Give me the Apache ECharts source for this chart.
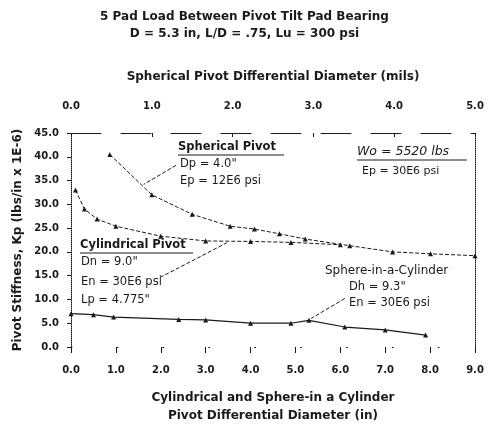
<!DOCTYPE html>
<html><head><meta charset="utf-8">
<script src="https://cdn.jsdelivr.net/npm/echarts@6/dist/echarts.min.js"></script>
<style>html,body{margin:0;padding:0;background:#fff}#c{width:489px;height:430px}</style>
</head><body><div id="c"></div>
<script>
// Spherical pivot (top axis, mils)
var sphX = [0.48, 1.0, 1.5, 1.97, 2.27, 2.58, 2.9, 3.45, 3.98, 4.45, 5.0];
var sphY = [40.5, 32.0, 27.9, 25.4, 24.8, 23.8, 22.7, 21.3, 20.0, 19.6, 19.2];
// Cylindrical pivot (bottom axis, in)
var cylX = [0.1, 0.3, 0.58, 1.0, 2.0, 3.0, 4.0, 4.9, 6.0];
var cylY = [33.0, 29.0, 26.9, 25.4, 23.3, 22.3, 22.2, 22.0, 21.5];
// Sphere-in-a-Cylinder (bottom axis, in)
var sicX = [0.0, 0.5, 0.95, 2.4, 3.0, 4.0, 4.9, 5.3, 6.1, 7.0, 7.9];
var sicY = [7.0, 6.8, 6.3, 5.8, 5.7, 5.0, 5.0, 5.6, 4.2, 3.6, 2.5];
var yTicks = [0, 45, 5];
var bottomTicks = [0, 9, 1];
var topTicks = [0, 5, 1];

function pairs(xs, ys){ return xs.map(function(x,i){return [x, ys[i]];}); }
var F = 'DejaVu Sans';
var C = '#1a1a1a';
var chart = echarts.init(document.getElementById('c'));
var lbl = {fontFamily:F, fontSize:10, color:C, fontWeight:'bold', formatter:function(v){return v.toFixed(1);}};
var leader = {symbol:['none','none'], silent:true, label:{show:false}, lineStyle:{color:C, type:'dashed', width:1}};
chart.setOption({
  animation:false,
  title:{text:'5 Pad Load Between Pivot Tilt Pad Bearing\nD = 5.3 in, L/D = .75, Lu = 300 psi', left:'center', top:3,
    textStyle:{fontFamily:F, fontSize:12, fontWeight:'bold', color:C, lineHeight:17}},
  grid:{left:71, right:14, top:133, bottom:81},
  xAxis:[
    {type:'value', position:'bottom', min:bottomTicks[0], max:bottomTicks[1], interval:bottomTicks[2],
     axisLine:{show:true, onZero:false, lineStyle:{color:C, width:1, type:[1,44.9]}}, axisTick:{show:true, length:6, lineStyle:{color:C, width:1}}, splitLine:{show:false},
     axisLabel:Object.assign({margin:18}, lbl),
     name:'Cylindrical and Sphere-in a Cylinder\nPivot Differential Diameter (in)', nameLocation:'middle', nameGap:42,
     nameTextStyle:{fontFamily:F, fontSize:12, fontWeight:'bold', color:C, lineHeight:18}},
    {type:'value', position:'top', min:topTicks[0], max:topTicks[1], interval:topTicks[2],
     axisLine:{show:true, onZero:false, lineStyle:{color:C, type:[30,20], width:1}}, axisTick:{show:true, inside:true, length:4, lineStyle:{color:C}}, splitLine:{show:false},
     axisLabel:Object.assign({margin:22}, lbl),
     name:'Spherical Pivot Differential Diameter (mils)', nameLocation:'middle', nameGap:50,
     nameTextStyle:{fontFamily:F, fontSize:12, fontWeight:'bold', color:C}}
  ],
  yAxis:[
    {type:'value', min:yTicks[0], max:yTicks[1], interval:yTicks[2],
     axisLine:{show:true, onZero:false, lineStyle:{color:C, type:'dotted', width:1}}, axisTick:{show:true, length:4, lineStyle:{color:C}}, splitLine:{show:false},
     axisLabel:Object.assign({margin:12}, lbl),
     name:'Pivot Stiffness, Kp (lbs/in x 1E-6)', nameLocation:'middle', nameGap:47,
     nameTextStyle:{fontFamily:F, fontSize:12, fontWeight:'bold', color:C}},
    {type:'value', position:'right', min:yTicks[0], max:yTicks[1], interval:yTicks[2],
     axisLine:{show:true, onZero:false, lineStyle:{color:C, type:'dotted', width:1}}, axisTick:{show:false}, axisLabel:{show:false}, splitLine:{show:false}}
  ],
  series:[
    {name:'Spherical Pivot', type:'line', xAxisIndex:1, yAxisIndex:0, data:pairs(sphX, sphY),
     symbol:'triangle', symbolSize:5, itemStyle:{color:C}, lineStyle:{color:C, width:1, type:'dashed'},
     markLine:Object.assign({data:[[{coord:[1.3,38.2]},{coord:[0.9,34.2]}]]}, leader)},
    {name:'Cylindrical Pivot', type:'line', xAxisIndex:0, yAxisIndex:0, data:pairs(cylX, cylY),
     symbol:'triangle', symbolSize:5, itemStyle:{color:C}, lineStyle:{color:C, width:1, type:'dashed'},
     markLine:Object.assign({data:[[{coord:[1.98,14.6]},{coord:[3.47,21.9]}]]}, leader)},
    {name:'Sphere-in-a-Cylinder', type:'line', xAxisIndex:0, yAxisIndex:0, data:pairs(sicX, sicY),
     symbol:'triangle', symbolSize:5, itemStyle:{color:C}, lineStyle:{color:C, width:1.2, type:'solid'},
     markLine:Object.assign({data:[[{coord:[6.1,10.2]},{coord:[5.35,6.0]}]]}, leader)}
  ],
  graphic:[
    {type:'text', left:178, top:141, style:{text:'Spherical Pivot', font:'bold 11.5px "DejaVu Sans"', fill:C}},
    {type:'line', shape:{x1:178, y1:155, x2:284, y2:155}, style:{stroke:C, lineWidth:1}},
    {type:'text', left:180, top:158, style:{text:'Dp = 4.0"', font:'11.5px "DejaVu Sans"', fill:C}},
    {type:'text', left:180, top:175, style:{text:'Ep = 12E6 psi', font:'11.5px "DejaVu Sans"', fill:C}},
    {type:'text', left:357, top:145, style:{text:'Wo = 5520 lbs', font:'italic 12.5px "DejaVu Sans"', fill:C}},
    {type:'line', shape:{x1:357, y1:160, x2:467, y2:160}, style:{stroke:C, lineWidth:1}},
    {type:'text', left:362, top:166, style:{text:'Ep = 30E6 psi', font:'11px "DejaVu Sans"', fill:C}},
    {type:'text', left:80, top:239, style:{text:'Cylindrical Pivot', font:'bold 11.5px "DejaVu Sans"', fill:C}},
    {type:'line', shape:{x1:80, y1:253, x2:193, y2:253}, style:{stroke:C, lineWidth:1}},
    {type:'text', left:81, top:256, style:{text:'Dn = 9.0"', font:'11.5px "DejaVu Sans"', fill:C}},
    {type:'text', left:81, top:276, style:{text:'En = 30E6 psi', font:'11.5px "DejaVu Sans"', fill:C}},
    {type:'text', left:81, top:294, style:{text:'Lp = 4.775"', font:'11.5px "DejaVu Sans"', fill:C}},
    {type:'text', left:325, top:265, style:{text:'Sphere-in-a-Cylinder', font:'12px "DejaVu Sans"', fill:C}},
    {type:'text', left:349, top:281, style:{text:'Dh = 9.3"', font:'11.5px "DejaVu Sans"', fill:C}},
    {type:'text', left:349, top:297, style:{text:'En = 30E6 psi', font:'11.5px "DejaVu Sans"', fill:C}}
  ]
});
</script></body></html>
